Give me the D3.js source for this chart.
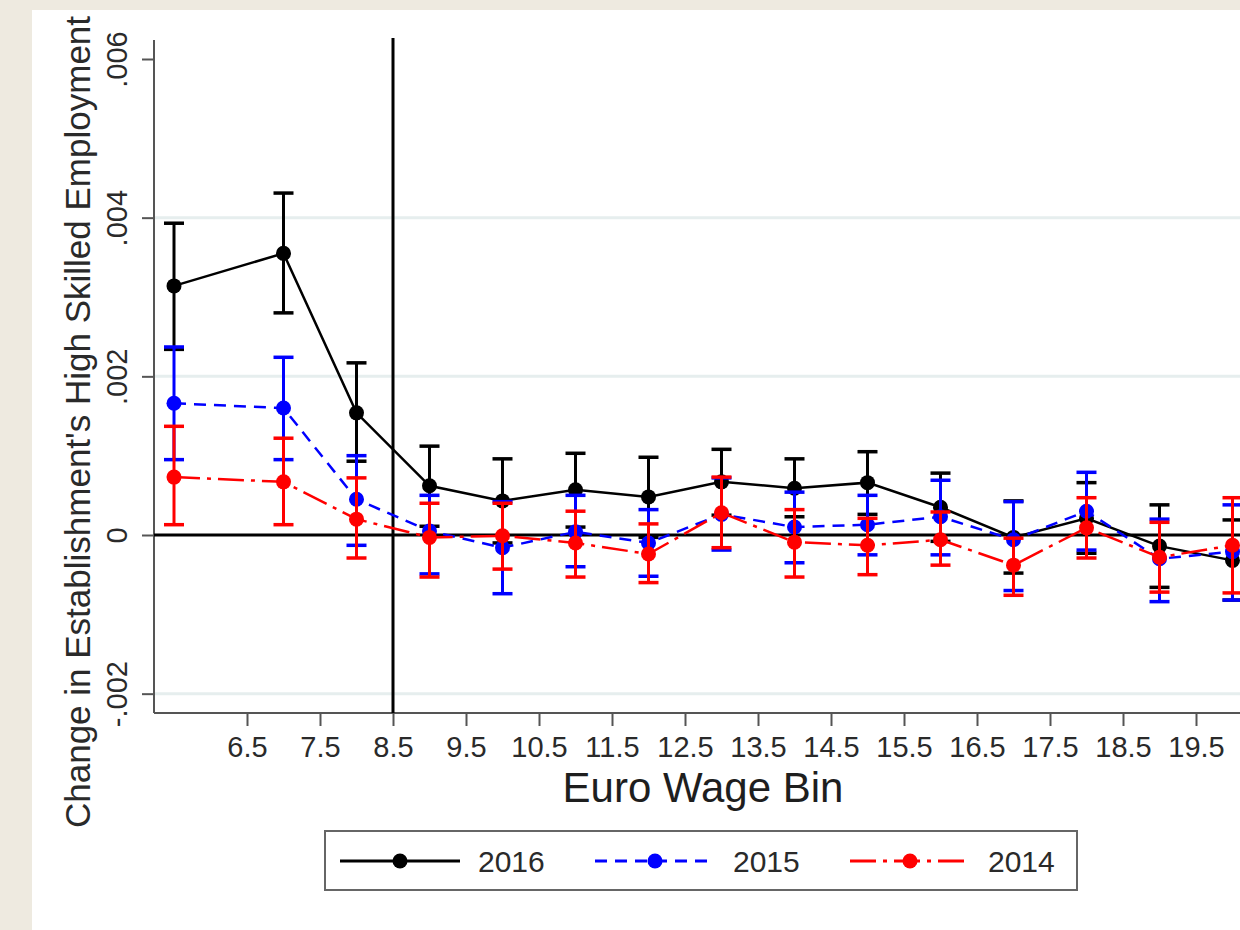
<!DOCTYPE html>
<html>
<head>
<meta charset="utf-8">
<script src="https://cdn.jsdelivr.net/npm/d3@7"></script>
<style>
  html, body { margin: 0; padding: 0; background: #eeeae0; }
  svg { display: block; }
  text { font-family: "Liberation Sans", Arial, Helvetica, sans-serif; fill: #1e1e1e; }
</style>
</head>
<body>
<svg id="chart" width="1240" height="930"></svg>
<script>
// Euro wage bins (point positions on the x axis)
const wageBins = [5.5, 7, 8, 9, 10, 11, 12, 13, 14, 15, 16, 17, 18, 19, 20];

// Point estimates and 95% interval bounds, by year
const est2016 = [0.00314, 0.00355, 0.00154, 0.00062, 0.00043, 0.00057, 0.00048, 0.00067, 0.00059, 0.00066, 0.00035, -0.00003, 0.00021, -0.00014, -0.00032];
const hi2016  = [0.00393, 0.00431, 0.00217, 0.00112, 0.00096, 0.00103, 0.00098, 0.00108, 0.00096, 0.00105, 0.00078, 0.00043, 0.00066, 0.00038, 0.00019];
const lo2016  = [0.00234, 0.00280, 0.00093, 0.00011, -0.00010, 0.00010, -0.00003, 0.00025, 0.00023, 0.00026, -0.00008, -0.00048, -0.00023, -0.00066, -0.00082];

const est2015 = [0.00166, 0.00160, 0.00045, 0.00005, -0.00016, 0.00004, -0.00010, 0.00026, 0.00010, 0.00013, 0.00023, -0.00006, 0.00030, -0.00030, -0.00021];
const hi2015  = [0.00237, 0.00224, 0.00100, 0.00050, 0.00042, 0.00050, 0.00032, 0.00072, 0.00054, 0.00050, 0.00069, 0.00042, 0.00079, 0.00020, 0.00038];
const lo2015  = [0.00095, 0.00095, -0.00013, -0.00049, -0.00074, -0.00040, -0.00052, -0.00019, -0.00035, -0.00025, -0.00025, -0.00070, -0.00019, -0.00084, -0.00082];

const est2014 = [0.00073, 0.00067, 0.00020, -0.00003, -0.00001, -0.00010, -0.00024, 0.00028, -0.00009, -0.00013, -0.00006, -0.00038, 0.00009, -0.00028, -0.00013];
const hi2014  = [0.00137, 0.00122, 0.00072, 0.00040, 0.00040, 0.00030, 0.00014, 0.00073, 0.00032, 0.00021, 0.00029, -0.00004, 0.00047, 0.00016, 0.00047];
const lo2014  = [0.00013, 0.00013, -0.00029, -0.00053, -0.00043, -0.00053, -0.00060, -0.00016, -0.00053, -0.00050, -0.00038, -0.00076, -0.00029, -0.00072, -0.00073];

const seriesNames = ["2016", "2015", "2014"];

// Axis ticks
const xTickValues = [6.5, 7.5, 8.5, 9.5, 10.5, 11.5, 12.5, 13.5, 14.5, 15.5, 16.5, 17.5, 18.5, 19.5];
const yTickValues = [-0.002, 0, 0.002, 0.004, 0.006];
const yTickLabels = ["-.002", "0", ".002", ".004", ".006"];
const yGridValues = [-0.002, 0.002, 0.004];
const cutoffWage = 8.5;

const xTitle = "Euro Wage Bin";
const yTitle = "Change in Establishment's High Skilled Employment";

// ---- layout ----
const W = 1240, H = 930;
const panel = { left: 32, top: 10 };
const plot = { left: 154, top: 40, bottom: 713, right: 1240 };

const svg = d3.select("#chart");

svg.append("rect").attr("x", 0).attr("y", 0).attr("width", W).attr("height", H).attr("fill", "#eeeae0");
svg.append("rect").attr("x", panel.left).attr("y", panel.top)
  .attr("width", W - panel.left).attr("height", H - panel.top).attr("fill", "#ffffff");

const x = d3.scaleLinear().domain([5.5, 20]).range([174, 1232.5]);
const y = d3.scaleLinear().domain([0, 0.006]).range([535, 59]);

svg.append("defs").append("clipPath").attr("id", "plotclip")
  .append("rect").attr("x", plot.left).attr("y", 0).attr("width", W - plot.left).attr("height", H);

// gridlines
svg.append("g").selectAll("line").data(yGridValues).join("line")
  .attr("x1", plot.left).attr("x2", plot.right)
  .attr("y1", d => y(d)).attr("y2", d => y(d))
  .attr("stroke", "#e6eeee").attr("stroke-width", 3);

// y axis
const yAxis = svg.append("g").attr("transform", `translate(${plot.left},0)`)
  .call(d3.axisLeft(y).tickValues(yTickValues).tickSize(12).tickSizeOuter(0)
    .tickFormat((d, i) => yTickLabels[i]));
yAxis.select(".domain").remove();
yAxis.selectAll(".tick line").attr("stroke", "#555").attr("stroke-width", 2);
yAxis.selectAll(".tick text")
  .attr("transform", "rotate(-90)")
  .attr("x", 0).attr("y", -27).attr("dy", 0)
  .attr("text-anchor", "middle")
  .style("font-size", "29px").style("fill", "#2a2a2a");
svg.append("line").attr("x1", plot.left).attr("x2", plot.left)
  .attr("y1", plot.top).attr("y2", plot.bottom)
  .attr("stroke", "#555").attr("stroke-width", 2);

// x axis
const xAxis = svg.append("g").attr("transform", `translate(0,${plot.bottom})`)
  .call(d3.axisBottom(x).tickValues(xTickValues).tickSize(13).tickSizeOuter(0)
    .tickFormat(d3.format(".1f")));
xAxis.select(".domain").remove();
xAxis.selectAll(".tick line").attr("stroke", "#555").attr("stroke-width", 2);
xAxis.selectAll(".tick text")
  .attr("y", 0).attr("dy", 0).attr("transform", "translate(0,44)")
  .style("font-size", "29px").style("fill", "#2a2a2a");
svg.append("line").attr("x1", plot.left).attr("x2", plot.right)
  .attr("y1", plot.bottom).attr("y2", plot.bottom)
  .attr("stroke", "#555").attr("stroke-width", 2);

// reference lines: zero and the cutoff wage
svg.append("line").attr("x1", plot.left).attr("x2", plot.right)
  .attr("y1", y(0)).attr("y2", y(0)).attr("stroke", "#000").attr("stroke-width", 3);
svg.append("line").attr("x1", x(cutoffWage)).attr("x2", x(cutoffWage))
  .attr("y1", 38).attr("y2", plot.bottom).attr("stroke", "#000").attr("stroke-width", 3);

// series
const series = [
  { name: seriesNames[0], est: est2016, lo: lo2016, hi: hi2016, color: "#000000", dash: null, width: 2.5 },
  { name: seriesNames[1], est: est2015, lo: lo2015, hi: hi2015, color: "#0000ff", dash: "12,8", width: 2.5 },
  { name: seriesNames[2], est: est2014, lo: lo2014, hi: hi2014, color: "#ff0000", dash: "26,7,4,7", width: 2.5 }
];

const dataLayer = svg.append("g").attr("clip-path", "url(#plotclip)");
const capW = 10;
const line = d3.line().x(d => x(d.bin)).y(d => y(d.v));

series.forEach(s => {
  const pts = wageBins.map((b, i) => ({ bin: b, v: s.est[i], lo: s.lo[i], hi: s.hi[i] }));
  const g = dataLayer.append("g");
  g.append("path").datum(pts).attr("d", line)
    .attr("fill", "none").attr("stroke", s.color).attr("stroke-width", s.width)
    .attr("stroke-dasharray", s.dash);
  const bars = g.append("g").selectAll("g").data(pts).join("g");
  bars.append("line")
    .attr("x1", d => x(d.bin)).attr("x2", d => x(d.bin))
    .attr("y1", d => y(d.lo)).attr("y2", d => y(d.hi))
    .attr("stroke", s.color).attr("stroke-width", 3);
  bars.append("line")
    .attr("x1", d => x(d.bin) - capW).attr("x2", d => x(d.bin) + capW)
    .attr("y1", d => y(d.hi)).attr("y2", d => y(d.hi))
    .attr("stroke", s.color).attr("stroke-width", 3.5);
  bars.append("line")
    .attr("x1", d => x(d.bin) - capW).attr("x2", d => x(d.bin) + capW)
    .attr("y1", d => y(d.lo)).attr("y2", d => y(d.lo))
    .attr("stroke", s.color).attr("stroke-width", 3.5);
  g.append("g").selectAll("circle").data(pts).join("circle")
    .attr("cx", d => x(d.bin)).attr("cy", d => y(d.v)).attr("r", 7.5)
    .attr("fill", s.color);
});

// axis titles
svg.append("text").attr("x", 703).attr("y", 802).attr("text-anchor", "middle")
  .style("font-size", "42px").text(xTitle);
svg.append("text").attr("transform", "translate(90,422) rotate(-90)")
  .attr("text-anchor", "middle").style("font-size", "35px").style("fill", "#2a2a2a")
  .text(yTitle);

// legend
const legend = svg.append("g");
legend.append("rect").attr("x", 325).attr("y", 831).attr("width", 752).attr("height", 59)
  .attr("fill", "#fff").attr("stroke", "#666").attr("stroke-width", 2);
const legendItems = legend.selectAll("g.item").data(series).join("g")
  .attr("class", "item")
  .attr("transform", (d, i) => `translate(${340 + i * 255},861)`);
legendItems.append("line").attr("x1", 0).attr("x2", 120).attr("y1", 0).attr("y2", 0)
  .attr("stroke", d => d.color).attr("stroke-width", d => d.width + 0.5)
  .attr("stroke-dasharray", d => d.dash);
legendItems.append("circle").attr("cx", 60).attr("cy", 0).attr("r", 7.5).attr("fill", d => d.color);
legendItems.append("text").attr("x", 138).attr("y", 11)
  .style("font-size", "30px").style("fill", "#2a2a2a").text(d => d.name);
</script>
</body>
</html>
